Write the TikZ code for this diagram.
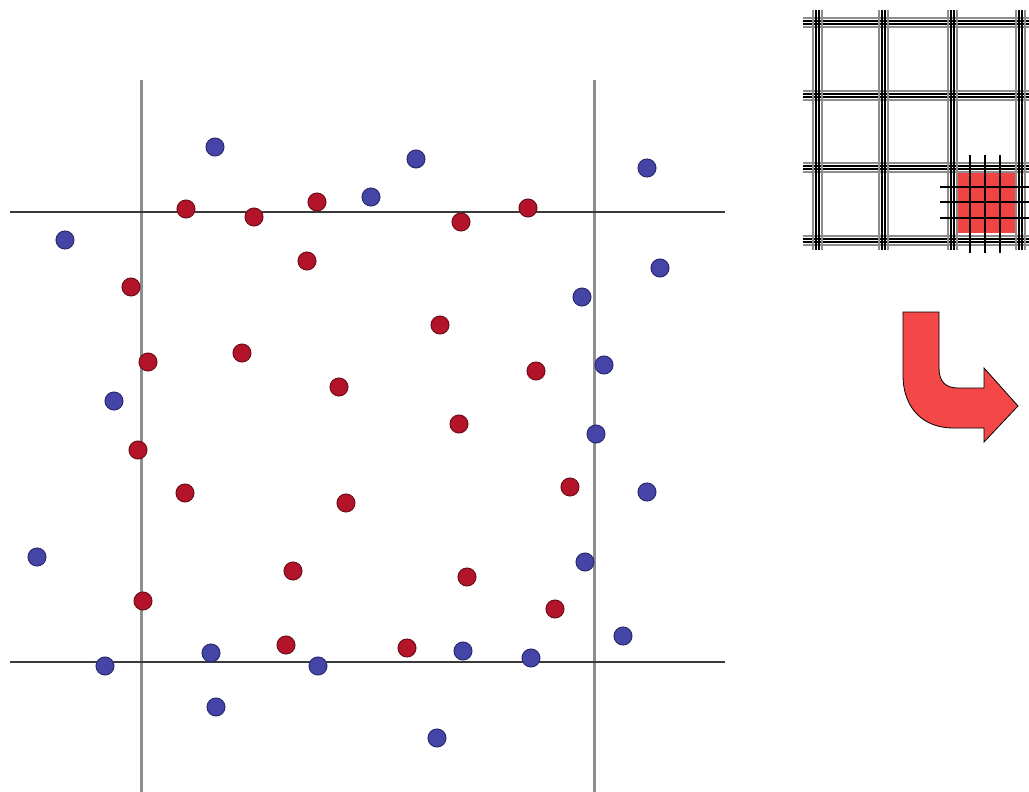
\documentclass[tikz,border=0pt]{standalone}
\usetikzlibrary{calc}
\definecolor{reddot}{HTML}{B3142A}
\definecolor{reddotedge}{HTML}{6E0E1A}
\definecolor{bluedot}{HTML}{4545A8}
\definecolor{bluedotedge}{HTML}{2A2A70}
\definecolor{hline}{HTML}{3A3A3A}
\definecolor{vline}{HTML}{8E8E8E}
\definecolor{arrowred}{HTML}{F44848}
\definecolor{cellred}{HTML}{F04444}
\tikzset{
  rdot/.style={fill=reddot,draw=reddotedge,line width=1pt},
  bdot/.style={fill=bluedot,draw=bluedotedge,line width=1pt},
  hcut/.style={draw=hline,line width=2.5pt},
  vcut/.style={draw=vline,line width=3pt},
  gblack/.style={draw=black,line width=1.2pt},
  ggray/.style={draw=black!45,line width=2.2pt},
}
\begin{document}
\begin{tikzpicture}[x=1pt,y=-1pt]
\useasboundingbox (0,0) rectangle (1029,792);
% cut lines
\draw[vcut] (141,80) -- (141,792);
\draw[vcut] (594,80) -- (594,792);
\draw[hcut] (10,212) -- (725,212);
\draw[hcut] (10,662) -- (725,662);
% red dots
\foreach \x/\y in {186/209,254/217,317/202,461/222,528/208,307/261,131/287,440/325,148/362,242/353,339/387,536/371,459/424,138/450,185/493,346/503,570/487,293/571,467/577,143/601,555/609,286/645,407/648}
  \draw[rdot] (\x,\y) circle[radius=9];
% blue dots
\foreach \x/\y in {215/147,416/159,371/197,647/168,65/240,660/268,582/297,604/365,114/401,596/434,647/492,37/557,585/562,623/636,211/653,463/651,531/658,105/666,318/666,216/707,437/738}
  \draw[bdot] (\x,\y) circle[radius=9];
% grid top right
\fill[cellred] (957,172) rectangle (1015,233);
\foreach \y in {22,95,167,240}{
  \draw[ggray] (803,\y-4) -- (1029,\y-4);
  \draw[gblack] (803,\y-1) -- (1029,\y-1);
  \draw[gblack] (803,\y+2) -- (1029,\y+2);
  \draw[ggray] (803,\y+5) -- (1029,\y+5);
}
\foreach \x in {817,883,952,1020}{
  \draw[ggray] (\x-4,10) -- (\x-4,250);
  \draw[gblack] (\x-1,10) -- (\x-1,250);
  \draw[gblack] (\x+2,10) -- (\x+2,250);
  \draw[ggray] (\x+5,10) -- (\x+5,250);
}
\foreach \x in {970,985,1000}
  \draw[gblack] (\x,155) -- (\x,253);
\foreach \y in {187,202,218}
  \draw[gblack] (940,\y) -- (1029,\y);
% bent arrow
\draw[fill=arrowred,draw=black,line width=0.8pt,line join=miter]
  (903,312) -- (939,312) -- (939,368)
  .. controls (939,382) and (946,388) .. (958,388)
  -- (984,388) -- (984,368) -- (1018,406) -- (984,442) -- (984,428)
  -- (953,428) .. controls (925,428) and (903,410) .. (903,375) -- cycle;
\end{tikzpicture}
\end{document}
